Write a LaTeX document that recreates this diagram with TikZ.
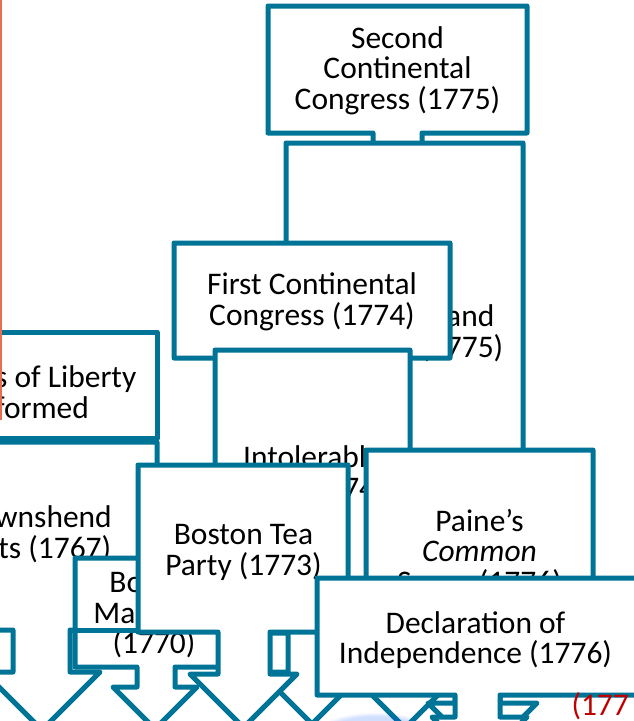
\documentclass[tikz,border=0pt]{standalone}
\usepackage{fontspec}
\setmainfont{Carlito}
\usetikzlibrary{fadings}

\definecolor{boxline}{RGB}{0,116,150}
\definecolor{edgeorange}{RGB}{231,110,80}
\definecolor{yearred}{RGB}{192,0,0}

\tikzset{every picture/.style={line width=0.75pt}}
\tikzset{
  eventshape/.style={draw=boxline, fill=white, line width=3.75pt, line join=round},
  eventtext/.style={align=center, inner sep=0pt, font=\fontsize{23.6}{22.9}\selectfont},
}

% box with stem and down arrow: x1,y1,x2,y2, stem left, stem right, wing y, wing left, wing right
\newcommand{\eventbox}[9]{%
  \draw [eventshape] (#1,#2) -- (#3,#2) -- (#3,#4) -- (#6,#4) -- (#6,#7) -- (#9,#7)
    -- ({(#8+#9)/2},{#7+(#9-#8)/2}) -- (#8,#7) -- (#5,#7) -- (#5,#4) -- (#1,#4) -- cycle ;}

\begin{document}
\begin{tikzpicture}[x=0.75pt,y=0.75pt,yscale=-1,xscale=1]
	\useasboundingbox (0,0) rectangle (634,721);
	\clip (0,0) rectangle (634,721);

	%Shape: Second Continental Congress
	\eventbox{268}{6}{527}{133}{373}{422}{175}{345}{450}
	% Text Node
	\node [eventtext] (second) at (397.5,70.5) {Second\\Continental\\Congress (1775)};

	%Shape: Lexington and Concord
	\eventbox{286}{143}{523}{630}{381}{429}{675}{352}{458}
	% Text Node
	\node [eventtext] (lexington) at (405,333.5) {Lexington and\\Concord (1775)};

	%Shape: First Continental Congress
	\eventbox{174}{243}{450}{358}{288}{336}{400}{260}{364}
	% Text Node
	\node [eventtext] (first) at (312,302) {First Continental\\Congress (1774)};

	%Shape: Intolerable Acts
	\eventbox{215}{350}{410}{633}{288}{336}{672}{260}{364}
	% Text Node
	\node [eventtext] (intolerable) at (312.5,474) {Intolerable\\Acts (1774)};

	%Shape: Sons of Liberty
	\draw [eventshape] (-73,332) rectangle (157,438) ;
	% Text Node
	\node [eventtext] (sons) at (42,392) {Sons of Liberty\\formed};

	%Shape: Townshend Acts
	\eventbox{-79}{442}{157}{630}{13}{70}{672}{-16}{100}
	% Text Node
	\node [eventtext] (townshend) at (39,534.5) {Townshend\\Acts (1767)};

	%Shape: Boston Massacre
	\eventbox{75}{558}{233}{667}{137}{175}{687}{113}{197}
	% Text Node
	\node [eventtext] (massacre) at (154,615.5) {Boston\\Massacre\\(1770)};
	%Straight Lines
	\draw [boxline, line width=3.75pt] (70,630) -- (138,630) ;

	%Shape: Boston Tea Party
	\eventbox{138}{465}{348}{632}{218}{270}{674}{190}{297}
	% Text Node
	\node [eventtext] (teaparty) at (243.5,552.5) {Boston Tea\\Party (1773)};

	%Shape: Paine's Common Sense
	\eventbox{366}{450}{593}{660}{455}{500}{703}{428}{537}
	% Text Node
	\node [eventtext] (paine) at (479.5,553) {Paine’s\\\textit{Common}\\Sense (1776)};

	%Shape: Declaration of Independence
	\eventbox{317}{578}{640}{695}{455}{500}{717}{432}{527}
	% Text Node
	\node [eventtext] (declaration) at (475.5,640) {Declaration of\\Independence (1776)};

	% glow under the arrows
	\fill [blue!70!cyan, opacity=0.18, path fading=circle with fuzzy edge 20 percent] (375,734) ellipse (60 and 22) ;

	% Text Node
	\node [eventtext, anchor=west, text=yearred] (redyear) at (571,706) {(177};

	%Straight Lines
	\draw [edgeorange, line width=1.5pt] (1,0) -- (1,420) ;
\end{tikzpicture}
\end{document}
